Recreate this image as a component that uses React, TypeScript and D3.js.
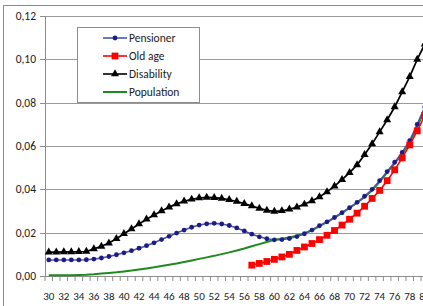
import React from 'react';
import * as d3 from 'd3';

const ages = d3.range(30, 81);
const yTicks = [0, 0.02, 0.04, 0.06, 0.08, 0.1, 0.12];
const xLabelAges = ages.filter(a => a % 2 === 0);

const pensioner = [
  0.0074, 0.0074, 0.0074, 0.0074, 0.0074, 0.0075, 0.0078, 0.0083, 0.0090, 0.0098,
  0.0107, 0.0117, 0.0128, 0.0140, 0.0153, 0.0168, 0.0183, 0.0198, 0.0212, 0.0225,
  0.0235, 0.0241, 0.0243, 0.0240, 0.0233, 0.0222, 0.0208, 0.0193, 0.0181, 0.0172,
  0.0167, 0.0168, 0.0173, 0.0182, 0.0195, 0.0212, 0.0232, 0.0250, 0.0270, 0.0292,
  0.0315, 0.0340, 0.0368, 0.0400, 0.0440, 0.0482, 0.0525, 0.0570, 0.0625, 0.0700,
  0.0780,
];

// old age starts at 57
const oldAgeStart = 57;
const oldAge = [
  0.0050, 0.0058, 0.0067, 0.0077, 0.0088, 0.0100, 0.0118, 0.0134, 0.0150, 0.0168,
  0.0188, 0.0210, 0.0235, 0.0262, 0.0290, 0.0322, 0.0358, 0.0395, 0.0440, 0.0490,
  0.0545, 0.0605, 0.0670, 0.0740,
];

const disability = [
  0.0110, 0.0110, 0.0111, 0.0111, 0.0112, 0.0113, 0.0125, 0.0137, 0.0152, 0.0172,
  0.0195, 0.0217, 0.0240, 0.0262, 0.0282, 0.0300, 0.0318, 0.0333, 0.0345, 0.0354,
  0.0360, 0.0363, 0.0362, 0.0358, 0.0352, 0.0344, 0.0334, 0.0323, 0.0312, 0.0303,
  0.0298, 0.0301, 0.0308, 0.0318, 0.0331, 0.0347, 0.0365, 0.0388, 0.0415, 0.0445,
  0.0477, 0.0513, 0.0560, 0.0610, 0.0665, 0.0720, 0.0780, 0.0850, 0.0920, 0.1000,
  0.1070,
];

const population = [
  0.0003, 0.0003, 0.0004, 0.0004, 0.0005, 0.0006, 0.0008, 0.0011, 0.0014, 0.0017,
  0.0021, 0.0025, 0.0030, 0.0035, 0.0040, 0.0046, 0.0052, 0.0058, 0.0065, 0.0072,
  0.0079, 0.0086, 0.0093, 0.0101, 0.0109, 0.0118, 0.0127, 0.0137, 0.0147, 0.0157,
  0.0167, 0.0172, 0.0178, 0.0186, 0.0196, 0.0211, 0.0230, 0.0249, 0.0269, 0.0291,
  0.0314, 0.0338, 0.0365, 0.0396, 0.0435, 0.0478, 0.0520, 0.0565, 0.0618, 0.0690,
  0.0768,
];

const font = 'Carlito, Calibri, Lato, sans-serif';

type Pt = { age: number; v: number };

export default function App() {
  const left = 45;
  const step = 7.52;
  const x = d3.scaleBand<number>()
    .domain(ages)
    .range([left, left + ages.length * step])
    .paddingInner(0)
    .paddingOuter(0);
  const y = d3.scaleLinear().domain([0, 0.12]).range([276, 16]);
  const cx = (a: number) => (x(a) || 0) + x.bandwidth() / 2;

  const toPts = (arr: number[], start: number): Pt[] => arr.map((v, i) => ({ age: start + i, v }));
  const pens = toPts(pensioner, 30);
  const old = toPts(oldAge, oldAgeStart);
  const dis = toPts(disability, 30);
  const pop = toPts(population, 30);

  const line = d3.line<Pt>().x(d => cx(d.age)).y(d => y(d.v));
  const tri = d3.symbol(d3.symbolTriangle, 28)() || '';

  const x0 = left;
  const x1 = left + ages.length * step;
  const boundaries = d3.range(ages.length + 1).map(i => left + i * step);

  const legend = [
    { label: 'Pensioner', color: '#4b55a3', marker: 'circle' },
    { label: 'Old age', color: '#ff0000', marker: 'square' },
    { label: 'Disability', color: '#000000', marker: 'triangle' },
    { label: 'Population', color: '#1f8a1f', marker: 'none' },
  ];

  return (
    <div style={{ position: 'absolute', left: 0, top: 0 }}>
      <svg width={423} height={306} style={{ display: 'block', background: '#fff' }}>
        <rect x={3.5} y={5.5} width={440} height={320} fill="#fff" stroke="#8c8c8c" />

        {yTicks.map(t => (
          <g key={t}>
            <line x1={x0} x2={x1} y1={Math.round(y(t)) + 0.5} y2={Math.round(y(t)) + 0.5}
              stroke="#9a9a9a" strokeWidth={1} />
            <line x1={x0 - 5} x2={x0} y1={Math.round(y(t)) + 0.5} y2={Math.round(y(t)) + 0.5}
              stroke="#8c8c8c" />
            <text x={36} y={y(t) + 4} textAnchor="end" fontFamily={font} fontSize={11.5} fill="#1a1a1a">
              {t.toFixed(2).replace('.', ',')}
            </text>
          </g>
        ))}

        <line x1={x0 + 0.5} x2={x0 + 0.5} y1={16} y2={276} stroke="#8c8c8c" />
        <line x1={x0} x2={x1} y1={276.5} y2={276.5} stroke="#8c8c8c" />
        {boundaries.map((b, i) => (
          <line key={i} x1={b} x2={b} y1={276} y2={281} stroke="#8c8c8c" />
        ))}
        {xLabelAges.map(a => (
          <text key={a} x={cx(a)} y={300} textAnchor="middle" fontFamily={font} fontSize={11}
            fill="#1a1a1a">
            {a}
          </text>
        ))}

        <path d={line(pop) || ''} fill="none" stroke="#1f8a1f" strokeWidth={2} />

        <path d={line(dis) || ''} fill="none" stroke="#000" strokeWidth={1.7} />
        {dis.map(d => (
          <path key={d.age} d={tri} transform={`translate(${cx(d.age)},${y(d.v)})`} fill="#000" />
        ))}

        <path d={line(pens) || ''} fill="none" stroke="#4b55a3" strokeWidth={1.6} />
        {pens.map(d => (
          <circle key={d.age} cx={cx(d.age)} cy={y(d.v)} r={2.4} fill="#1c1c86" />
        ))}

        <path d={line(old) || ''} fill="none" stroke="#ff0000" strokeWidth={1.6} />
        {old.map(d => (
          <rect key={d.age} x={cx(d.age) - 3.4} y={y(d.v) - 3.4} width={6.8} height={6.8} fill="#ff0000" />
        ))}

        <rect x={77.5} y={27.5} width={122} height={75} fill="#fff" stroke="#8c8c8c" />
        {legend.map((l, i) => {
          const ly = 38 + i * 18;
          return (
            <g key={l.label}>
              <line x1={103} x2={127} y1={ly} y2={ly} stroke={l.color}
                strokeWidth={l.marker === 'none' ? 2 : 1.6} />
              {l.marker === 'circle' && <circle cx={115} cy={ly} r={2.4} fill="#1c1c86" />}
              {l.marker === 'square' && <rect x={111.6} y={ly - 3.4} width={6.8} height={6.8} fill="#ff0000" />}
              {l.marker === 'triangle' && <path d={tri} transform={`translate(115,${ly})`} fill="#000" />}
              <text x={129} y={ly + 4} fontFamily={font} fontSize={11.5} fill="#1a1a1a">{l.label}</text>
            </g>
          );
        })}
      </svg>
    </div>
  );
}
